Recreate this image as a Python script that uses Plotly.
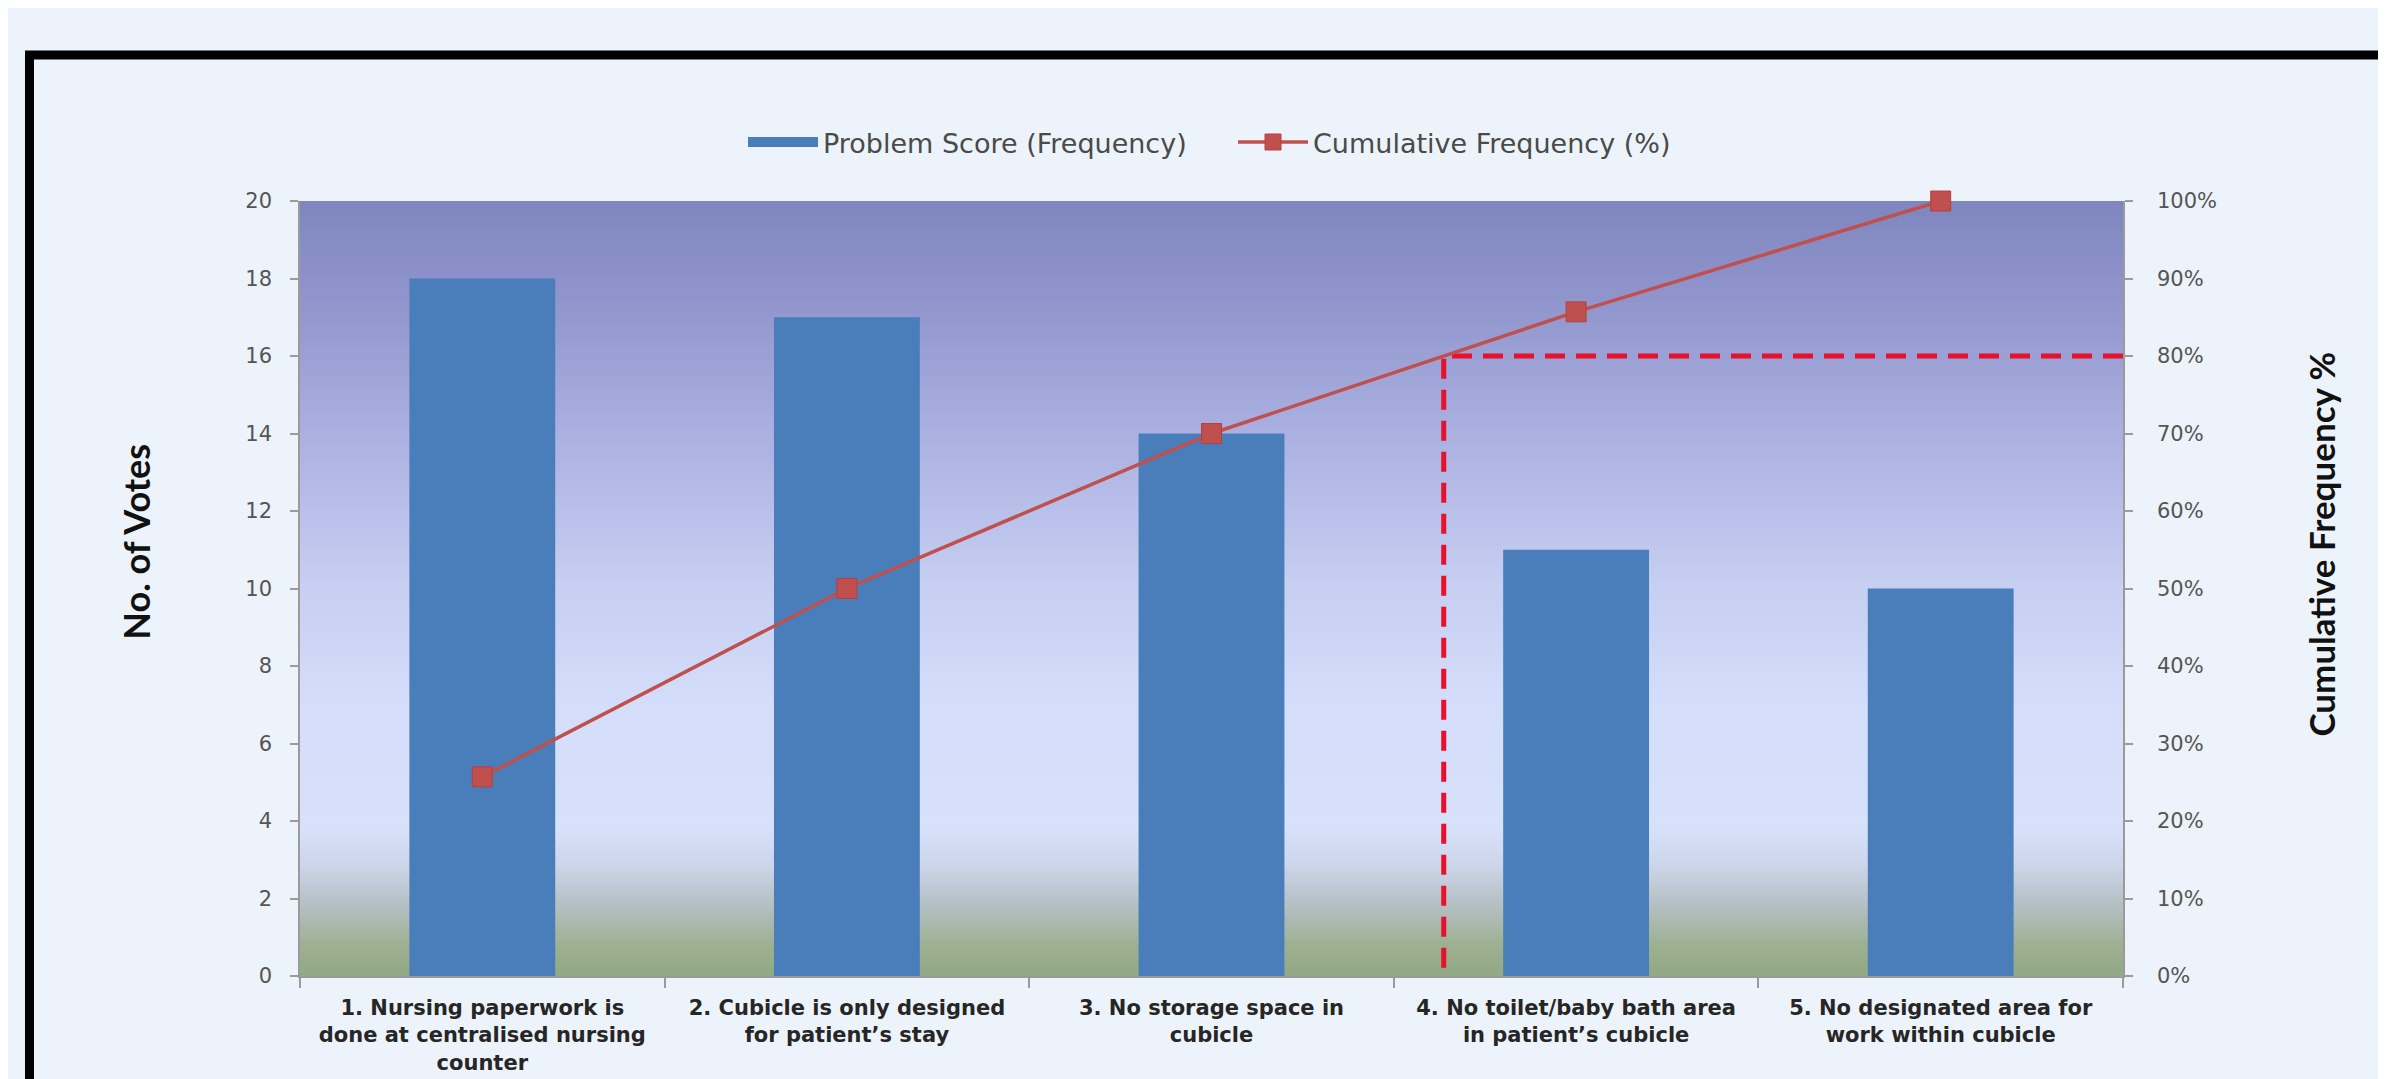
import plotly.graph_objects as go

# ---------------- data ----------------
categories = [
    "1. Nursing paperwork is<br>done at centralised nursing<br>counter",
    "2. Cubicle is only designed<br>for patient\u2019s stay",
    "3. No storage space in<br>cubicle",
    "4. No toilet/baby bath area<br>in patient\u2019s cubicle",
    "5. No designated area for<br>work within cubicle",
]
problem_score = [18, 17, 14, 11, 10]
cumulative_pct = [25.7, 50.0, 70.0, 85.7, 100.0]
pareto_threshold = 80
votes_ticks = [0, 2, 4, 6, 8, 10, 12, 14, 16, 18, 20]
pct_ticks = [0, 10, 20, 30, 40, 50, 60, 70, 80, 90, 100]
pct_tick_labels = ["0%", "10%", "20%", "30%", "40%", "50%", "60%", "70%", "80%", "90%", "100%"]

# ---------------- helpers ----------------
W, H = 2386, 1079
L, R, T, B = 292, 2115, 193, 987
TITLE_FONT = "Lato"
TEXT_FONT = "DejaVu Sans"

def px_x(p):
    return (p - L) / (R - L)

def px_y(p):
    return (B - p) / (B - T)

def hex2rgb(h):
    h = h.lstrip("#")
    return tuple(int(h[i:i + 2], 16) for i in (0, 2, 4))

grad_stops = [
    (0.00, "#92A883"),
    (0.04, "#9DB093"),
    (0.09, "#B4BFC2"),
    (0.14, "#CBD4E8"),
    (0.19, "#D7E1FA"),
    (0.35, "#D4DDFA"),
    (0.50, "#C7CFF2"),
    (0.70, "#AAB0E0"),
    (0.85, "#9399CF"),
    (1.00, "#7F85BE"),
]

def grad_color(f):
    for (f0, c0), (f1, c1) in zip(grad_stops[:-1], grad_stops[1:]):
        if f0 <= f <= f1:
            t = (f - f0) / (f1 - f0) if f1 > f0 else 0
            a, b = hex2rgb(c0), hex2rgb(c1)
            return "rgb(%d,%d,%d)" % tuple(round(a[i] + (b[i] - a[i]) * t) for i in range(3))
    return grad_stops[-1][1]

shapes = []
N = 200
for i in range(N):
    y0 = i / N
    y1 = (i + 1) / N + 0.002
    shapes.append(dict(type="rect", xref="paper", yref="paper", x0=0, x1=1,
                       y0=y0, y1=min(y1, 1), fillcolor=grad_color((i + 0.5) / N),
                       line=dict(width=0), layer="below"))

# black outer frame (right/bottom edges fall outside the canvas)
shapes.append(dict(type="rect", xref="paper", yref="paper",
                   x0=px_x(21.5), x1=px_x(W + 40), y0=px_y(H + 40), y1=px_y(43.5),
                   line=dict(color="black", width=9), fillcolor="rgba(0,0,0,0)",
                   layer="above"))

# ---------------- traces ----------------
xs = list(range(len(categories)))
BAR_COLOR = "#4A7EBB"
LINE_COLOR = "#C0504D"

fig = go.Figure()
fig.add_trace(go.Bar(
    x=xs, y=problem_score, name="Problem Score (Frequency)", showlegend=False,
    marker=dict(color=BAR_COLOR, line=dict(width=0)), width=0.4,
))
# legend entry drawn as a wide bar swatch
fig.add_trace(go.Scatter(
    x=[None], y=[None], mode="lines", name="Problem Score (Frequency)",
    line=dict(color=BAR_COLOR, width=13),
))

# threshold crossing (interpolated along the cumulative line)
xc = None
for i in range(len(cumulative_pct) - 1):
    a, b = cumulative_pct[i], cumulative_pct[i + 1]
    if a <= pareto_threshold <= b:
        xc = xs[i] + (pareto_threshold - a) / (b - a)
        break

fig.add_trace(go.Scatter(
    x=[len(categories) - 0.5, xc, xc], y=[pareto_threshold, pareto_threshold, 0],
    mode="lines", yaxis="y2", showlegend=False, hoverinfo="skip",
    line=dict(color="#E8112D", width=5, dash="20px,11px"),
))

fig.add_trace(go.Scatter(
    x=xs, y=cumulative_pct, name="Cumulative Frequency (%)", yaxis="y2",
    mode="lines+markers", cliponaxis=False,
    line=dict(color=LINE_COLOR, width=3.5),
    marker=dict(symbol="square", size=20, color=LINE_COLOR,
                line=dict(color="#B5413E", width=1)),
))

axis_common = dict(showgrid=False, zeroline=False, showline=True,
                   linecolor="#9A9A9A", linewidth=1.5,
                   ticks="outside", ticklen=8, tickcolor="#9A9A9A", tickwidth=1.5,
                   tickfont=dict(family=TEXT_FONT, size=21, color="#555555"))

fig.update_layout(
    width=W, height=H,
    margin=dict(l=L, r=W - R, t=T, b=H - B),
    paper_bgcolor="#EDF3FB",
    plot_bgcolor="#D6E0FA",
    bargap=0.6,
    shapes=shapes,
    showlegend=True,
    legend=dict(orientation="h", x=px_x(735), xanchor="left",
                y=px_y(133), yanchor="middle",
                font=dict(family=TEXT_FONT, size=27, color="#4A4A4A"),
                itemwidth=70, entrywidth=405, entrywidthmode="pixels",
                bgcolor="rgba(0,0,0,0)", traceorder="normal"),
    xaxis=dict(range=[-0.5, len(categories) - 0.5], tickmode="array",
               tickvals=xs, ticktext=categories, ticks="",
               showgrid=False, zeroline=False, showline=True,
               linecolor="#9A9A9A", linewidth=1.5, ticklabelstandoff=12,
               tickfont=dict(family=TEXT_FONT, size=21, color="#262626", weight=700),
               minor=dict(tickmode="linear", tick0=0.5, dtick=1, ticks="outside",
                          ticklen=10, tickcolor="#9A9A9A", tickwidth=1.5,
                          showgrid=False)),
    yaxis=dict(range=[0, 20], tickmode="array", tickvals=votes_ticks,
               ticklabelstandoff=14, **axis_common),
    yaxis2=dict(range=[0, 100], tickmode="array", tickvals=pct_ticks,
                ticktext=pct_tick_labels, overlaying="y", side="right",
                ticklabelstandoff=20, **axis_common),
    annotations=[
        dict(text="No. of Votes", xref="paper", yref="paper",
             x=px_x(128), y=px_y(542), textangle=-90, showarrow=False,
             xanchor="center", yanchor="middle",
             font=dict(family=TITLE_FONT, size=36, color="#111111", weight=700)),
        dict(text="Cumulative Frequency %", xref="paper", yref="paper",
             x=px_x(2313), y=px_y(545), textangle=-90, showarrow=False,
             xanchor="center", yanchor="middle",
             font=dict(family=TITLE_FONT, size=35, color="#111111", weight=700)),
    ],
)

fig.write_html("out.html")
